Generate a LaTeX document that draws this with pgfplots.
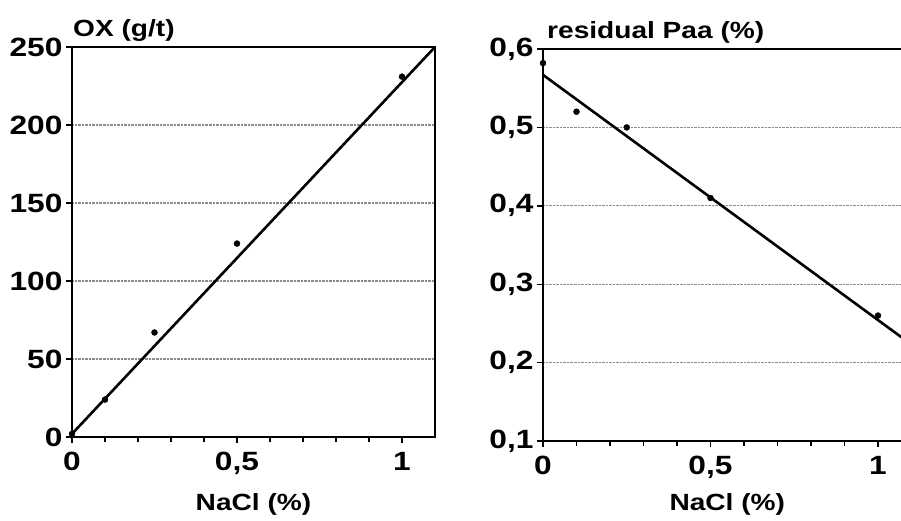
\documentclass[border=0pt]{standalone}
\usepackage{pgfplots}
\pgfplotsset{compat=1.18}
\usepackage{fontspec}
\setmainfont[FakeStretch=1.2]{Liberation Sans}

\pgfplotsset{
  base/.style={
    scale only axis,
    clip mode=individual,
    axis line style={line width=1.8bp},
    tick style={black, line width=1.4bp},
    tick align=outside,
    tick pos=left,
    major tick length=6bp,
    minor tick length=5bp,
    ymajorgrids,
    grid style={densely dotted, black!45, line width=1.3bp},
    /pgf/number format/assume math mode=true,
    /pgf/number format/use comma,
    ticklabel style={font=\fontsize{26.5}{28}\selectfont\bfseries},
    xticklabel style={yshift=-6bp},
    xtick={0,0.5,1},
    minor x tick num=4,
    xmin=0, xmax=1.1,
    x label style={at={(rel axis cs:0.5,0)}, anchor=base, yshift=-73bp,
      font=\fontsize{23.5}{26}\selectfont\bfseries},
  }
}

\begin{document}
\begin{tikzpicture}
\useasboundingbox (0,0) rectangle (901bp,521bp);

% left panel
\begin{axis}[base,
  at={(72bp,84bp)}, anchor=south west,
  width=363bp, height=390bp,
  ymin=0, ymax=250,
  ytick={0,50,100,150,200,250},
  xlabel={NaCl (\%)},
]
\addplot[only marks, mark=*, mark size=3bp, black] coordinates {
  (0,2) (0.1,24) (0.25,67) (0.5,124) (1,231)
};
\addplot[black, line width=2.6bp] coordinates {(0,2) (1.1,250)};
\node[anchor=base west, font=\fontsize{23.5}{26}\selectfont\bfseries, inner sep=0pt]
  at (rel axis cs:0,1) [xshift=1bp, yshift=10bp] {OX (g/t)};
\end{axis}

% right panel
\begin{axis}[base,
  at={(543bp,80bp)}, anchor=south west,
  width=368.5bp, height=392bp,
  ymin=0.1, ymax=0.6,
  ytick={0.1,0.2,0.3,0.4,0.5,0.6},
  yticklabel style={/pgf/number format/.cd, fixed, fixed zerofill, precision=1, use comma},
  xlabel={NaCl (\%)},
  x label style={yshift=4bp},
]
\addplot[only marks, mark=*, mark size=3bp, black] coordinates {
  (0,0.582) (0.1,0.52) (0.25,0.50) (0.5,0.41) (1,0.26)
};
\addplot[black, line width=2.6bp] coordinates {(0,0.567) (1.1,0.223)};
\node[anchor=base west, font=\fontsize{23.5}{26}\selectfont\bfseries, inner sep=0pt]
  at (rel axis cs:0,1) [xshift=4bp, yshift=11bp] {residual Paa (\%)};
\end{axis}
\end{tikzpicture}
\end{document}
